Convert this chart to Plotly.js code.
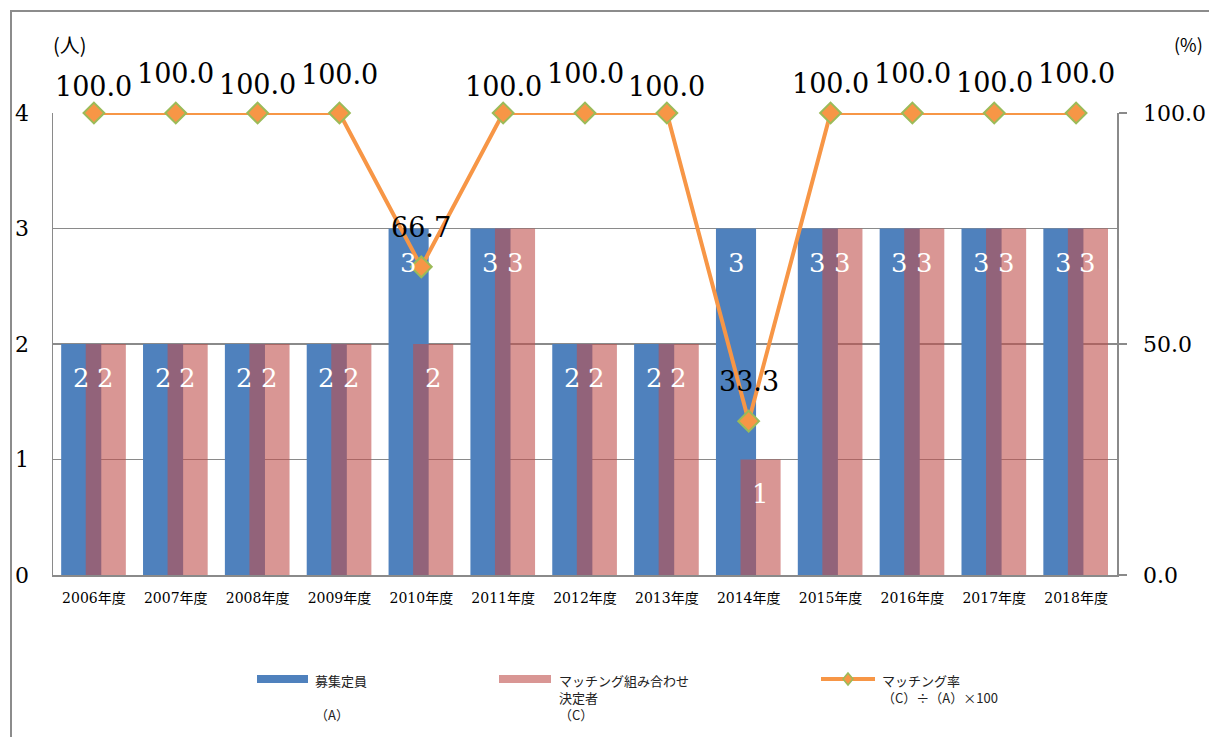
<!DOCTYPE html>
<html>
<head>
<meta charset="utf-8">
<script src="https://cdn.plot.ly/plotly-3.0.1.min.js"></script>
<style>
  html, body { margin: 0; padding: 0; background: #fff; }
  #wrap { position: relative; width: 1209px; height: 737px; overflow: hidden; }
  #chart { position: absolute; left: 0; top: 0; width: 1209px; height: 737px; }
  #frame { position: absolute; left: 10px; top: 10px; width: 1300px; height: 800px;
           border-left: 2px solid #8c8c8c; border-top: 2px solid #8c8c8c; pointer-events: none; }
</style>
</head>
<body>
<div id="wrap">
  <div id="chart"></div>
  <div id="frame"></div>
</div>
<script>
// ---- data ----
const years = ['2006年度','2007年度','2008年度','2009年度','2010年度','2011年度','2012年度',
               '2013年度','2014年度','2015年度','2016年度','2017年度','2018年度'];
const capacity = [2, 2, 2, 2, 3, 3, 2, 2, 3, 3, 3, 3, 3];          // 募集定員 (A)
const matched  = [2, 2, 2, 2, 2, 3, 2, 2, 1, 3, 3, 3, 3];          // マッチング組み合わせ決定者 (C)
const rate     = [100, 100, 100, 100, 66.7, 100, 100, 100, 33.3, 100, 100, 100, 100]; // (C)÷(A)×100
const leftTicks  = [0, 1, 2, 3, 4];
const rightTicks = [0, 50, 100];
const legendA = ['募集定員', ' ', '（A）'];
const legendC = ['マッチング組み合わせ', '決定者', '（C）'];
const legendR = ['マッチング率', '（C）÷（A）×100'];

// ---- layout tweaks (label offsets in px, not data) ----
const rateLabelShift = [27, 40, 29, 39, 39, 27, 40, 27, 40, 30, 40, 31, 40];

const L = 53, R = 1117, T = 113, B = 575, W = 1209, H = 737;
const px = x => (x - L) / (R - L);
const py = y => (B - y) / (B - T);

const serif = '"DejaVu Serif", "Liberation Serif", serif';
const jfont = '"Noto Sans CJK JP", "Noto Sans", sans-serif';
const grid = '#8a8a8a';
const BLUE = '#4F81BD', PINK = 'rgba(192,80,77,0.6)', ORANGE = '#F79646', GREEN = '#9BBB59';

const BAR_W = 0.49, OFF_A = -0.40, OFF_C = -0.10;

const traces = [
  { type: 'bar', name: legendA.join(''), x: years, y: capacity, width: BAR_W, offset: OFF_A,
    marker: { color: BLUE }, showlegend: false },
  { type: 'bar', name: legendC.join(''), x: years, y: matched, width: BAR_W, offset: OFF_C,
    marker: { color: PINK }, showlegend: false },
  { type: 'scatter', mode: 'lines+markers', name: legendR.join(''), x: years, y: rate, yaxis: 'y2',
    line: { color: ORANGE, width: 4 }, cliponaxis: false,
    marker: { symbol: 'diamond', size: 16, color: ORANGE, line: { color: GREEN, width: 2 } },
    showlegend: false }
];

const annotations = [];
years.forEach((yr, i) => {
  annotations.push({ x: i + OFF_A + BAR_W / 2, y: capacity[i], xref: 'x', yref: 'y',
    text: String(capacity[i]), showarrow: false, yshift: -34, yanchor: 'middle', xanchor: 'center',
    font: { family: serif, size: 26, color: '#ffffff' } });
  annotations.push({ x: i + OFF_C + BAR_W / 2, y: matched[i], xref: 'x', yref: 'y',
    text: String(matched[i]), showarrow: false, yshift: -34, yanchor: 'middle', xanchor: 'center',
    font: { family: serif, size: 26, color: '#ffffff' } });
  annotations.push({ x: i, y: rate[i], xref: 'x', yref: 'y2',
    text: rate[i].toFixed(1), showarrow: false, yshift: rateLabelShift[i], yanchor: 'middle', xanchor: 'center',
    font: { family: serif, size: 27, color: '#000000' } });
});
annotations.push({ xref: 'paper', yref: 'paper', x: px(70), y: py(44), text: '(人)',
  xanchor: 'center', yanchor: 'middle',
  showarrow: false, font: { family: jfont, size: 20, color: '#000' } });
annotations.push({ xref: 'paper', yref: 'paper', x: px(1188), y: py(44), text: '(%)',
  xanchor: 'center', yanchor: 'middle',
  showarrow: false, font: { family: jfont, size: 18, color: '#000' } });

// ---- legend (drawn by hand so it can sit exactly where the reference puts it) ----
const legFont = { family: jfont, size: 13, color: '#222' };
function legText(lines, x, y) {
  annotations.push({ xref: 'paper', yref: 'paper', x: px(x), y: py(y), text: lines.join('<br>'),
    xanchor: 'left', yanchor: 'top', align: 'left', showarrow: false, font: legFont });
}
legText(legendA, 313, 669);
legText(legendC, 557, 669);
legText(legendR, 880, 669);

const shapes = [
  { type: 'rect', xref: 'paper', yref: 'paper', x0: px(257), x1: px(308), y0: py(675), y1: py(683),
    fillcolor: BLUE, line: { width: 0 } },
  { type: 'rect', xref: 'paper', yref: 'paper', x0: px(499), x1: px(551), y0: py(675), y1: py(683),
    fillcolor: PINK, line: { width: 0 } },
  { type: 'line', xref: 'paper', yref: 'paper', x0: px(821), x1: px(875), y0: py(679), y1: py(679),
    line: { color: ORANGE, width: 4 } },
  { type: 'path', xref: 'paper', yref: 'paper',
    path: `M ${px(848)} ${py(673)} L ${px(853)} ${py(679)} L ${px(848)} ${py(685)} L ${px(843)} ${py(679)} Z`,
    fillcolor: ORANGE, line: { color: GREEN, width: 1.5 } }
];

const layout = {
  width: W, height: H,
  margin: { l: L, r: W - R, t: T, b: H - B, pad: 0 },
  paper_bgcolor: '#ffffff', plot_bgcolor: '#ffffff',
  barmode: 'overlay',
  showlegend: false,
  xaxis: {
    type: 'category', categoryorder: 'array', categoryarray: years,
    range: [-0.5, years.length - 0.5], automargin: false,
    showline: true, linecolor: grid, linewidth: 1.5, ticks: '', showgrid: false,
    tickfont: { family: serif + ', ' + jfont, size: 14, color: '#000' },
    ticklabelstandoff: 10, zeroline: false, tickangle: 0
  },
  yaxis: {
    range: [0, 4], tickvals: leftTicks, ticktext: leftTicks.map(String), automargin: false,
    showline: true, linecolor: grid, linewidth: 1.5,
    showgrid: true, gridcolor: grid, gridwidth: 1.5, zeroline: false,
    ticks: '', ticklabelstandoff: 18,
    tickfont: { family: serif, size: 22, color: '#000' }
  },
  yaxis2: {
    overlaying: 'y', side: 'right', range: [0, 100], automargin: false,
    tickvals: rightTicks, ticktext: rightTicks.map(v => v.toFixed(1)),
    showline: true, linecolor: grid, linewidth: 1.5, showgrid: false, zeroline: false,
    ticks: 'outside', ticklen: 8, tickwidth: 1.5, tickcolor: grid, ticklabelstandoff: 12,
    tickfont: { family: serif, size: 22, color: '#000' }
  },
  annotations: annotations,
  shapes: shapes
};

Plotly.newPlot('chart', traces, layout, { displayModeBar: false, staticPlot: true });
</script>
</body>
</html>
